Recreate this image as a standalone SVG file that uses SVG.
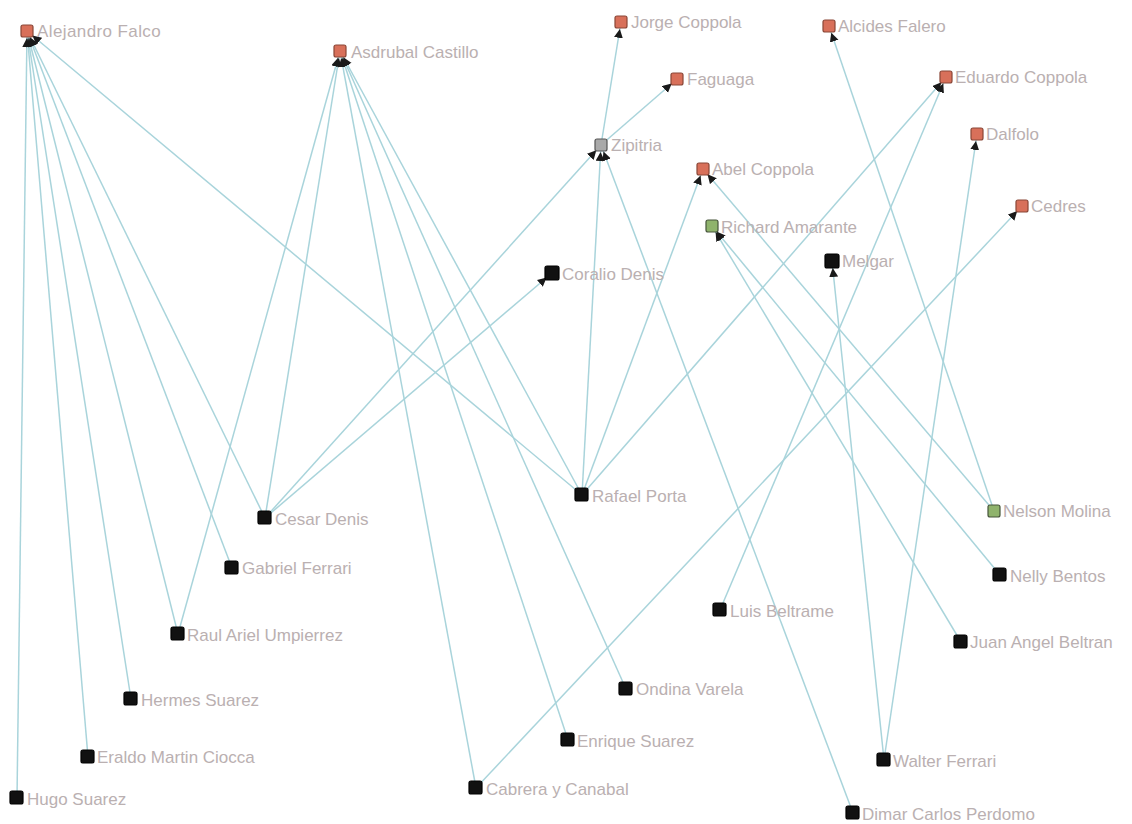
<svg xmlns="http://www.w3.org/2000/svg" width="1132" height="824" viewBox="0 0 1132 824">
<style>
.e{stroke:#a9d4db;stroke-width:1.5;fill:none;marker-end:url(#arr)}
.n rect{stroke-width:1.2}
.o rect{fill:#d8705a;stroke:#8a4636}
.g rect{fill:#a9a9a9;stroke:#555}
.v rect{fill:#8fb36c;stroke:#46553a}
.b rect{fill:#111;stroke:#000}
text{font-family:"Liberation Sans",Arial,sans-serif;font-size:17px;fill:#bab0b1}
</style>
<defs>
<marker id="arr" markerUnits="userSpaceOnUse" markerWidth="18" markerHeight="10" viewBox="0 0 18 10" refX="16" refY="4.5" orient="auto">
<path d="M0,0 L9,4.5 L0,9 z" fill="#1a1a1a"/>
</marker>
</defs>
<rect width="1132" height="824" fill="#fff"/>
<g id="connectors">
<line class="e" x1="17" y1="798" x2="27" y2="31"/>
<line class="e" x1="88" y1="757" x2="27" y2="31"/>
<line class="e" x1="131" y1="699" x2="27" y2="31"/>
<line class="e" x1="178" y1="634" x2="27" y2="31"/>
<line class="e" x1="232" y1="568" x2="27" y2="31"/>
<line class="e" x1="265" y1="518" x2="27" y2="31"/>
<line class="e" x1="582" y1="495" x2="27" y2="31"/>
<line class="e" x1="178" y1="634" x2="340" y2="51"/>
<line class="e" x1="265" y1="518" x2="340" y2="51"/>
<line class="e" x1="476" y1="788" x2="340" y2="51"/>
<line class="e" x1="568" y1="740" x2="340" y2="51"/>
<line class="e" x1="626" y1="689" x2="340" y2="51"/>
<line class="e" x1="582" y1="495" x2="340" y2="51"/>
<line class="e" x1="601" y1="145" x2="621" y2="22"/>
<line class="e" x1="601" y1="145" x2="677" y2="79"/>
<line class="e" x1="265" y1="518" x2="601" y2="145"/>
<line class="e" x1="582" y1="495" x2="601" y2="145"/>
<line class="e" x1="853" y1="813" x2="601" y2="145"/>
<line class="e" x1="265" y1="518" x2="552" y2="273"/>
<line class="e" x1="582" y1="495" x2="703" y2="169"/>
<line class="e" x1="994" y1="511" x2="703" y2="169"/>
<line class="e" x1="961" y1="642" x2="712" y2="226"/>
<line class="e" x1="1000" y1="575" x2="712" y2="226"/>
<line class="e" x1="994" y1="511" x2="829" y2="26"/>
<line class="e" x1="582" y1="495" x2="946" y2="77"/>
<line class="e" x1="720" y1="610" x2="946" y2="77"/>
<line class="e" x1="884" y1="760" x2="977" y2="134"/>
<line class="e" x1="884" y1="760" x2="832" y2="261"/>
<line class="e" x1="476" y1="788" x2="1022" y2="206"/>
</g>
<g id="alejandro" class="n o"><rect x="21" y="25" width="12" height="12" rx="2"/><text x="37" y="37" letter-spacing="0.4">Alejandro Falco</text></g>
<g id="asdrubal" class="n o"><rect x="334" y="45" width="12" height="12" rx="2"/><text x="351" y="58">Asdrubal Castillo</text></g>
<g id="jorge" class="n o"><rect x="615" y="16" width="12" height="12" rx="2"/><text x="631" y="28">Jorge Coppola</text></g>
<g id="faguaga" class="n o"><rect x="671" y="73" width="12" height="12" rx="2"/><text x="687" y="85">Faguaga</text></g>
<g id="zipitria" class="n g"><rect x="595" y="139" width="12" height="12" rx="2"/><text x="611" y="151">Zipitria</text></g>
<g id="abel" class="n o"><rect x="697" y="163" width="12" height="12" rx="2"/><text x="712" y="175">Abel Coppola</text></g>
<g id="alcides" class="n o"><rect x="823" y="20" width="12" height="12" rx="2"/><text x="838" y="32">Alcides Falero</text></g>
<g id="eduardo" class="n o"><rect x="940" y="71" width="12" height="12" rx="2"/><text x="955" y="83">Eduardo Coppola</text></g>
<g id="dalfolo" class="n o"><rect x="971" y="128" width="12" height="12" rx="2"/><text x="986" y="140">Dalfolo</text></g>
<g id="cedres" class="n o"><rect x="1016" y="200" width="12" height="12" rx="2"/><text x="1031" y="212">Cedres</text></g>
<g id="richard" class="n v"><rect x="706" y="220" width="12" height="12" rx="2"/><text x="721" y="233">Richard Amarante</text></g>
<g id="melgar" class="n b"><rect x="825" y="254" width="14" height="14" rx="2"/><text x="842" y="267">Melgar</text></g>
<g id="coralio" class="n b"><rect x="545" y="266" width="14" height="14" rx="2"/><text x="562" y="280">Coralio Denis</text></g>
<g id="rafael" class="n b"><rect x="575" y="488" width="13" height="13" rx="2"/><text x="592" y="502">Rafael Porta</text></g>
<g id="cesar" class="n b"><rect x="258" y="511" width="13" height="13" rx="2"/><text x="275" y="525">Cesar Denis</text></g>
<g id="nelson" class="n v"><rect x="988" y="505" width="12" height="12" rx="2"/><text x="1003" y="517">Nelson Molina</text></g>
<g id="gabriel" class="n b"><rect x="225" y="561" width="13" height="13" rx="2"/><text x="242" y="574">Gabriel Ferrari</text></g>
<g id="nelly" class="n b"><rect x="993" y="568" width="13" height="13" rx="2"/><text x="1010" y="582">Nelly Bentos</text></g>
<g id="luis" class="n b"><rect x="713" y="603" width="13" height="13" rx="2"/><text x="730" y="617">Luis Beltrame</text></g>
<g id="raul" class="n b"><rect x="171" y="627" width="13" height="13" rx="2"/><text x="187" y="641">Raul Ariel Umpierrez</text></g>
<g id="juan" class="n b"><rect x="954" y="635" width="13" height="13" rx="2"/><text x="970" y="648">Juan Angel Beltran</text></g>
<g id="hermes" class="n b"><rect x="124" y="692" width="13" height="13" rx="2"/><text x="141" y="706">Hermes Suarez</text></g>
<g id="ondina" class="n b"><rect x="619" y="682" width="13" height="13" rx="2"/><text x="636" y="695">Ondina Varela</text></g>
<g id="enrique" class="n b"><rect x="561" y="733" width="13" height="13" rx="2"/><text x="577" y="747">Enrique Suarez</text></g>
<g id="eraldo" class="n b"><rect x="81" y="750" width="13" height="13" rx="2"/><text x="97" y="763">Eraldo Martin Ciocca</text></g>
<g id="walter" class="n b"><rect x="877" y="753" width="13" height="13" rx="2"/><text x="893" y="767">Walter Ferrari</text></g>
<g id="cabrera" class="n b"><rect x="469" y="781" width="13" height="13" rx="2"/><text x="486" y="795">Cabrera y Canabal</text></g>
<g id="hugo" class="n b"><rect x="10" y="791" width="13" height="13" rx="2"/><text x="27" y="805">Hugo Suarez</text></g>
<g id="dimar" class="n b"><rect x="846" y="806" width="13" height="13" rx="2"/><text x="862" y="820">Dimar Carlos Perdomo</text></g>
</svg>
